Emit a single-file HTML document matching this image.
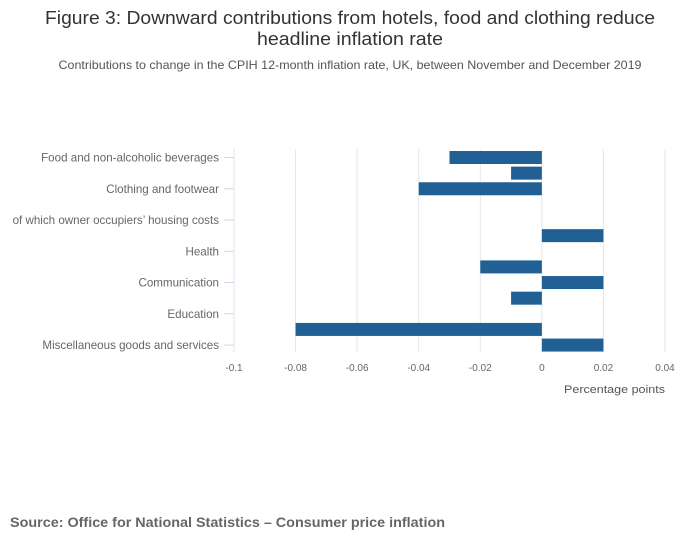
<!DOCTYPE html>
<html><head><meta charset="utf-8"><style>
body{margin:0;background:#fff;font-family:"Liberation Sans",sans-serif;}
</style></head><body>
<svg width="700" height="549" xmlns="http://www.w3.org/2000/svg">
<text x="350" y="24" text-anchor="middle" font-size="18" textLength="610" lengthAdjust="spacingAndGlyphs" fill="#333">Figure 3: Downward contributions from hotels, food and clothing reduce</text>
<text x="350" y="45" text-anchor="middle" font-size="18" textLength="186" lengthAdjust="spacingAndGlyphs" fill="#333">headline inflation rate</text>
<text x="350" y="69" text-anchor="middle" font-size="12" textLength="583" lengthAdjust="spacingAndGlyphs" fill="#555">Contributions to change in the CPIH 12-month inflation rate, UK, between November and December 2019</text>
<g id="grid"></g><g id="bars"></g><g id="ylabels"></g><g id="xlabels"></g>
<text x="665" y="393" text-anchor="end" font-size="11" textLength="101" lengthAdjust="spacingAndGlyphs" fill="#555">Percentage points</text>
<text x="10" y="527" font-size="14" font-weight="bold" textLength="435" lengthAdjust="spacingAndGlyphs" fill="#666">Source: Office for National Statistics – Consumer price inflation</text>
</svg>
<script>
const categories=["Food and non-alcoholic beverages","Alcohol and tobacco","Clothing and footwear","Housing and household services","of which owner occupiers’ housing costs","Furniture and household goods","Health","Transport","Communication","Recreation and culture","Education","Restaurants and hotels","Miscellaneous goods and services"];
const values=[-0.03,-0.01,-0.04,0,0,0.02,0,-0.02,0.02,-0.01,0,-0.08,0.02];
const ticks=[-0.1,-0.08,-0.06,-0.04,-0.02,0,0.02,0.04];
const tickLabels=["-0.1","-0.08","-0.06","-0.04","-0.02","0","0.02","0.04"];
const NS="http://www.w3.org/2000/svg";
const x=v=>234+(v+0.1)/0.14*431;
const y=i=>157.5+i*15.63;
function mk(t,a,p){const e=document.createElementNS(NS,t);for(const k in a)e.setAttribute(k,a[k]);document.getElementById(p).appendChild(e);return e;}
ticks.forEach((t,i)=>{
 const g=mk("line",{x1:x(t),x2:x(t),y1:149,y2:352,stroke:"#e6e6e6"},"grid");
 
 
 const l=mk("text",{x:x(t),y:371,"text-anchor":"middle","font-size":10,fill:"#666"},"xlabels");
 l.textContent=tickLabels[i];
 
 
});
categories.forEach((c,i)=>{
 const v=values[i];
 const r=mk("rect",{x:Math.min(x(0),x(v)),y:y(i)-6.5,width:Math.abs(x(v)-x(0)),height:13,fill:"#206095"},"bars");
 
 
 if(i%2===0){
  const t=mk("line",{x1:224,x2:234,y1:y(i),y2:y(i),stroke:"#ccd6eb"},"ylabels");
  
  
  const l=mk("text",{x:219,y:y(i)+4,"text-anchor":"end","font-size":11.6,fill:"#666"},"ylabels");
  l.textContent=c;
  
  
 }
});
</script>
</body></html>
